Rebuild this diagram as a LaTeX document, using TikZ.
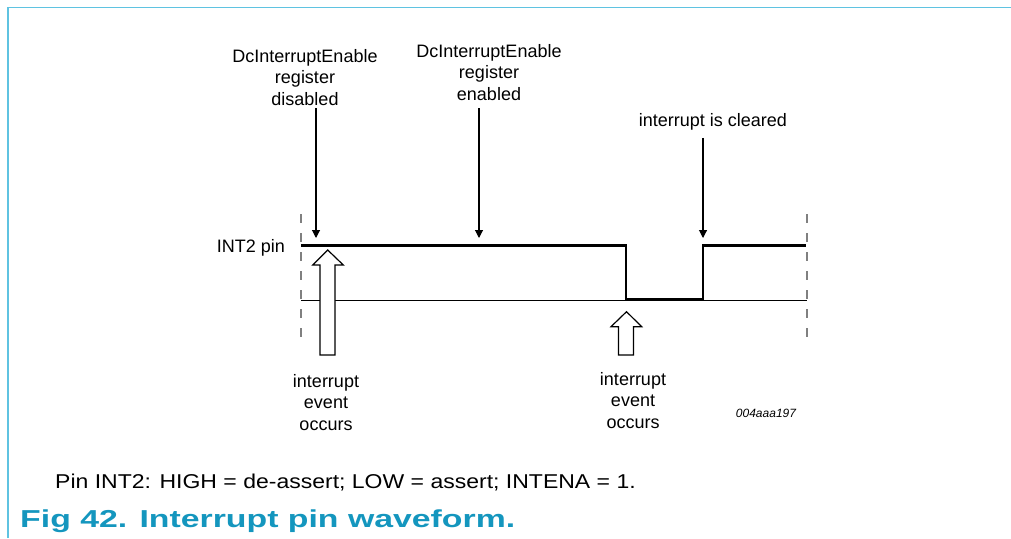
\documentclass[tikz,border=0pt]{standalone}
\usepackage{fontspec}
\setmainfont{Liberation Sans}
\newfontfamily\notefont[FakeStretch=1.15]{Liberation Sans}
\newfontfamily\capfont[FakeStretch=1.38]{Liberation Sans}
\usetikzlibrary{arrows.meta}
\definecolor{framecyan}{RGB}{95,195,225}
\definecolor{figblue}{RGB}{20,150,190}

\begin{document}
\begin{tikzpicture}[
        x=1pt, y=-1pt,
        every node/.style={inner sep=0pt, align=center, font=\fontsize{18}{21.5}\selectfont},
        note/.style={anchor=base west, font=\fontsize{20}{23}\notefont},
        figcap/.style={anchor=base west, text=figblue, font=\fontsize{24.5}{27}\capfont\bfseries},
        code/.style={font=\fontsize{12}{14}\selectfont\itshape},
        pointer/.style={-{Triangle[length=8pt, width=8pt]}, line width=1.1pt},
        signal/.style={line width=2.8pt},
        level/.style={line width=1pt},
        guide/.style={gray, line width=1.5pt, dash pattern=on 9pt off 10pt},
        hollow/.style={draw, line width=1.2pt, fill=white},
    ]
    \useasboundingbox (0,0) rectangle (1011,538);
    \draw[framecyan, line width=1.5pt] (8,538) -- (8,7.5) -- (1011,7.5);

    % time window
    \draw[guide] (301,214) -- (301,346);
    \draw[guide] (807,214) -- (807,346);
    \draw[level] (301,300) -- (807,300);
    \draw[signal] (301,245.5) -- (626,245.5) -- (626,299.5) -- (703,299.5) -- (703,245.5) -- (806,245.5);

    \node[anchor=base east](pin) at (285,252){INT2 pin};

    % labels above (base = last line)
    \node[anchor=base](dis) at (305,105){DcInterruptEnable\\register\\disabled};
    \node[anchor=base](ena) at (489,100){DcInterruptEnable\\register\\enabled};
    \node[anchor=base](clr) at (713,126){interrupt is cleared};

    \coordinate(p1) at (316,238);
    \coordinate(p2) at (479,238);
    \coordinate(p3) at (703,238);
    \draw[pointer] (dis.south -| p1) ++(0,3) -- (p1);
    \draw[pointer] (ena.south -| p2) ++(0,8) -- (p2);
    \draw[pointer] (clr.south -| p3) ++(0,8) -- (p3);

    % events
    \draw[hollow] (327.7,250) -- (343.3,265) -- (335,265) -- (335,355) -- (320,355) -- (320,265) -- (312.7,265) -- cycle;
    \draw[hollow] (626.5,311.7) -- (641.7,326.7) -- (633.5,326.7) -- (633.5,355) -- (618.5,355) -- (618.5,326.7) -- (611,326.7) -- cycle;

    \node[anchor=base](ev1) at (326,430){interrupt\\event\\occurs};
    \node[anchor=base](ev2) at (633,428){interrupt\\event\\occurs};
    \node[code](id) at (766,413){004aaa197};

    \node[note](txt) at (55,488){Pin INT2: HIGH = de-assert; LOW = assert; INTENA = 1.};
    \node[figcap](cap) at (20,527){Fig 42.\hspace{0.5em}Interrupt pin waveform.};
\end{tikzpicture}
\end{document}
